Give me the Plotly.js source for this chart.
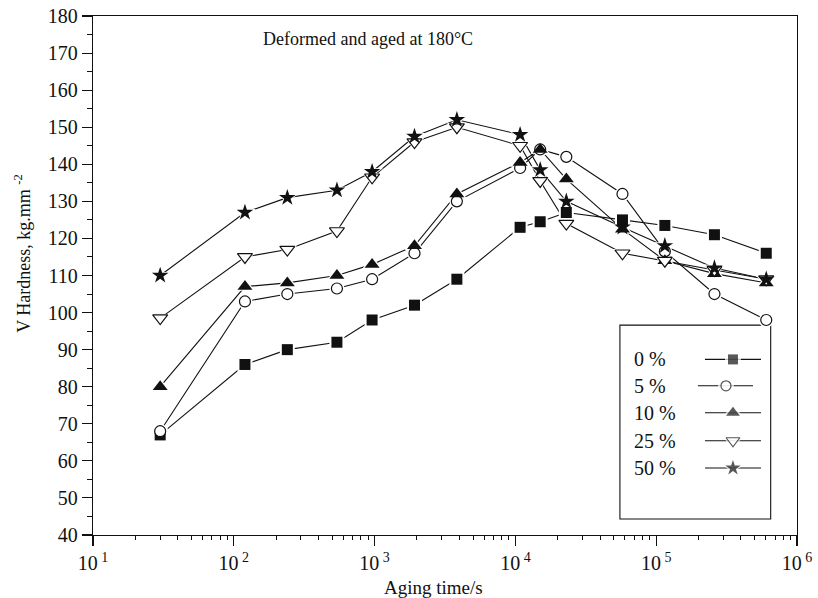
<!DOCTYPE html>
<html><head><meta charset="utf-8">
<script src="https://cdn.plot.ly/plotly-3.0.1.min.js"></script>
<style>html,body{margin:0;padding:0;background:#fff}#chart{width:818px;height:598px}</style>
</head><body><div id="chart"></div>
<script>
// ---- data ----
const agingTime = [30, 120, 240, 540, 960, 1920, 3840, 10800, 15000, 23000, 57600, 115200, 259200, 604800];
const hard0  = [67, 86, 90, 92, 98, 102, 109, 123, 124.5, 127, 125, 123.5, 121, 116];
const hard5  = [68, 103, 105, 106.5, 109, 116, 130, 139, 144, 142, 132, 116.5, 105, 98];
const hard10 = [80, 107, 108, 110, 113, 118, 132, 140.5, 144, 136, 122.5, 114, 110.5, 108];
const hard25 = [98.5, 115, 117, 122, 136.5, 146, 150, 145, 135.5, 124, 116, 114, 111.5, 109];
const hard50 = [110, 127, 131, 133, 138, 147.5, 152, 148, 138.5, 130, 123, 118, 112, 109];
const seriesNames = ['0 %', '5 %', '10 %', '25 %', '50 %'];
const xTickValues = [1e1, 1e2, 1e3, 1e4, 1e5, 1e6];
const xTickLabels = ['10<sup> 1</sup>', '10<sup> 2</sup>', '10<sup> 3</sup>', '10<sup> 4</sup>', '10<sup> 5</sup>', '10<sup> 6</sup>'];
const yTickValues = [40, 50, 60, 70, 80, 90, 100, 110, 120, 130, 140, 150, 160, 170, 180];

// ---- layout helpers ----
const W = 818, H = 598;
const L = 93.3, R = 797, T = 15.7, B = 535;
const px2x = p => (p - L) / (R - L);
const px2y = p => (B - p) / (B - T);
const FONT = 'Liberation Serif, Times New Roman, serif';
const INK = '#111';

const styles = [
  {symbol: 'square', size: 11, color: INK, line: {color: INK, width: 0}},
  {symbol: 'circle', size: 11, color: '#fff', line: {color: INK, width: 1.2}},
  {symbol: 'triangle-up', size: 13, color: INK, line: {color: INK, width: 0}},
  {symbol: 'triangle-down', size: 13, color: '#fff', line: {color: INK, width: 1.2}},
  {symbol: 'star', size: 12.5, color: INK, line: {color: INK, width: 0}}
];
const allSeries = [hard0, hard5, hard10, hard25, hard50];
const HALO = 4;

const traces = [];
// connecting lines
allSeries.forEach((ys, i) => traces.push({
  type: 'scatter', mode: 'lines', x: agingTime, y: ys, name: seriesNames[i],
  line: {color: INK, width: 1.1}, showlegend: false, hoverinfo: 'skip'
}));
// white halos (gap between line and symbol)
allSeries.forEach((ys, i) => traces.push({
  type: 'scatter', mode: 'markers', x: agingTime, y: ys, showlegend: false, hoverinfo: 'skip', cliponaxis: false,
  marker: {symbol: styles[i].symbol, size: styles[i].size + HALO, color: '#fff', line: {width: 0}}
}));
// symbols
allSeries.forEach((ys, i) => traces.push({
  type: 'scatter', mode: 'markers', x: agingTime, y: ys, name: seriesNames[i],
  marker: styles[i], showlegend: false, cliponaxis: false
}));

// legend samples drawn on an overlay axis (0..1)
const legRows = [359.3, 385.7, 412.7, 440.7, 468];
const legLine = [[705, 733, 761], [698, 726, 753], [705, 733, 761], [705, 733, 761], [705, 733, 761]];
legRows.forEach((py, i) => {
  const lx = legLine[i].map(px2x), ly = [py, py, py].map(px2y);
  traces.push({type: 'scatter', mode: 'lines', xaxis: 'x2', yaxis: 'y2', x: [lx[0], lx[2]], y: [ly[0], ly[2]],
    line: {color: INK, width: 1.1}, showlegend: false, hoverinfo: 'skip'});
  traces.push({type: 'scatter', mode: 'markers', xaxis: 'x2', yaxis: 'y2', x: [lx[1], lx[1]], y: [ly[1], ly[1]],
    marker: {symbol: [styles[i].symbol, styles[i].symbol], size: [styles[i].size - 1 + HALO + 2, styles[i].size - 1],
      color: ['#fff', styles[i].color], line: {color: ['#fff', INK], width: [0, styles[i].line.width]}},
    showlegend: false, hoverinfo: 'skip', cliponaxis: false});
});

const minorX = [];
for (let d = 1; d < 6; d++) for (let k = 2; k <= 9; k++) minorX.push(k * Math.pow(10, d));

const annotations = [
  {xref: 'paper', yref: 'paper', x: px2x(261), y: px2y(38.5), xanchor: 'left', yanchor: 'middle',
   text: 'Deformed and aged at 180°C', showarrow: false, font: {family: FONT, size: 18, color: INK}},
  {xref: 'paper', yref: 'paper', x: px2x(434), y: px2y(588), xanchor: 'center', yanchor: 'middle',
   text: 'Aging time/s', showarrow: false, font: {family: FONT, size: 19, color: INK}},
  {xref: 'paper', yref: 'paper', x: px2x(23), y: px2y(253), xanchor: 'center', yanchor: 'middle', textangle: -90,
   text: 'V Hardness, kg.mm <sup>-2</sup>', showarrow: false, font: {family: FONT, size: 18, color: INK}}
];
legRows.forEach((py, i) => annotations.push({
  xref: 'paper', yref: 'paper', x: px2x(632), y: px2y(py), xanchor: 'left', yanchor: 'middle',
  text: seriesNames[i], showarrow: false, font: {family: FONT, size: 20, color: INK}
}));

const layout = {
  width: W, height: H, margin: {l: L, r: W - R, t: T, b: H - B, pad: 0},
  paper_bgcolor: '#fff', plot_bgcolor: '#fff', showlegend: false,
  font: {family: FONT, size: 18, color: INK},
  xaxis: {type: 'log', range: [1, 6], tickmode: 'array', tickvals: xTickValues, ticktext: xTickLabels,
    ticks: 'outside', ticklen: 10, tickwidth: 1.1, tickcolor: INK, showgrid: false, zeroline: false,
    showline: true, linecolor: INK, linewidth: 1.2, mirror: true,
    tickfont: {family: FONT, size: 20, color: INK},
    minor: {tickmode: 'array', tickvals: minorX, ticks: 'outside', ticklen: 4, tickwidth: 1, tickcolor: INK, showgrid: false}},
  yaxis: {range: [40, 180], tickmode: 'array', tickvals: yTickValues,
    ticks: 'outside', ticklen: 10, tickwidth: 1.1, tickcolor: INK, showgrid: false, zeroline: false,
    showline: true, linecolor: INK, linewidth: 1.2, mirror: true,
    tickfont: {family: FONT, size: 20, color: INK},
    minor: {dtick: 5, ticks: 'outside', ticklen: 5, tickwidth: 1, tickcolor: INK, showgrid: false}},
  yaxis3: {range: [40, 180], overlaying: 'y', side: 'right', anchor: 'x', dtick: 5, ticks: 'outside', ticklen: 3,
    tickwidth: 1, tickcolor: INK, showticklabels: false, showgrid: false, zeroline: false, showline: false},
  xaxis2: {range: [0, 1], overlaying: 'x', anchor: 'y2', visible: false, fixedrange: true},
  yaxis2: {range: [0, 1], overlaying: 'y', anchor: 'x2', visible: false, fixedrange: true},
  shapes: [
    {type: 'rect', xref: 'paper', yref: 'paper', x0: px2x(620), x1: px2x(770.7), y0: px2y(519), y1: px2y(325),
     line: {color: INK, width: 1.1}, fillcolor: 'rgba(0,0,0,0)', layer: 'below'}
  ],
  annotations: annotations
};

Plotly.newPlot('chart', traces, layout, {staticPlot: true, displayModeBar: false});
</script>
</body></html>
